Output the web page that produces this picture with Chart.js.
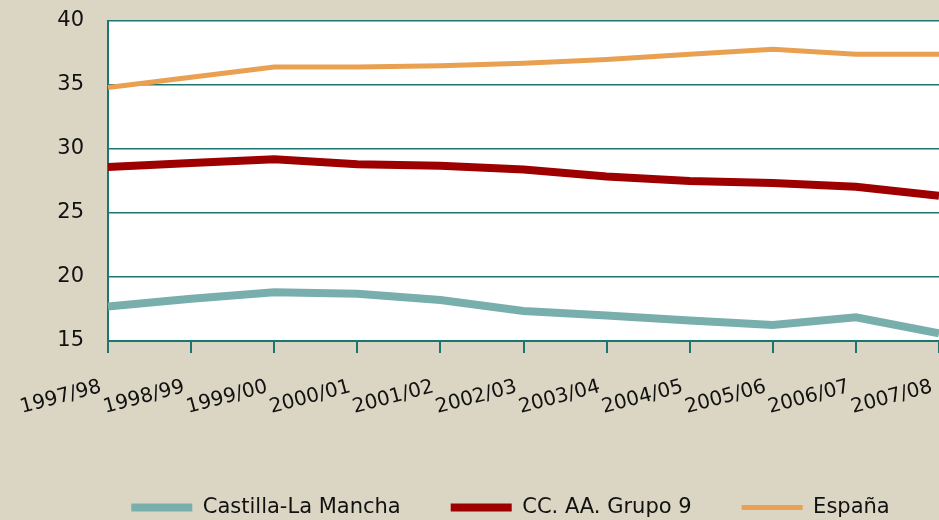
<!DOCTYPE html>
<html>
<head>
<meta charset="utf-8">
<script src="https://cdn.jsdelivr.net/npm/chart.js@4.4.1/dist/chart.umd.min.js"></script>
<style>
  html, body { margin: 0; padding: 0; background: #dbd6c4; }
  #wrap { width: 939px; height: 520px; }
</style>
</head>
<body>
<div id="wrap"><canvas id="chart" width="939" height="520"></canvas></div>
<script>
// Data
const seasons = ['1997/98', '1998/99', '1999/00', '2000/01', '2001/02', '2002/03',
                 '2003/04', '2004/05', '2005/06', '2006/07', '2007/08'];
const castillaLaMancha = [17.7, 18.3, 18.8, 18.7, 18.2, 17.35, 17.0, 16.6, 16.25, 16.85, 15.6];
const grupo9 = [28.6, 28.9, 29.2, 28.8, 28.7, 28.4, 27.85, 27.5, 27.35, 27.05, 26.35];
const espana = [34.8, 35.6, 36.4, 36.4, 36.5, 36.7, 37.0, 37.4, 37.8, 37.4, 37.4];
const yTicks = [15, 20, 25, 30, 35, 40];

const teal = '#1b7672';
const beige = '#dbd6c4';

// Paints the beige page and the white plot area
const backgroundPlugin = {
    id: 'background',
    beforeDraw(chart) {
        const { ctx, chartArea } = chart;
        ctx.save();
        ctx.fillStyle = beige;
        ctx.fillRect(0, 0, chart.width, chart.height);
        ctx.fillStyle = '#ffffff';
        ctx.fillRect(chartArea.left, chartArea.top, chartArea.right - chartArea.left, chartArea.bottom - chartArea.top);
        ctx.restore();
    }
};

// Nudges the legend a bit right and down, like in the original
const legendShiftPlugin = {
    id: 'legendShift',
    afterLayout(chart) {
        const lg = chart.legend;
        if (!lg) return;
        lg.left += 41;
        lg.right += 41;
        lg.top += 8;
        lg.bottom += 8;
    }
};

const ctx = document.getElementById('chart').getContext('2d');

new Chart(ctx, {
    type: 'line',
    data: {
        labels: seasons,
        datasets: [
            {
                label: 'Castilla-La Mancha',
                data: castillaLaMancha,
                borderColor: '#78afad',
                backgroundColor: '#78afad',
                borderWidth: 8,
                pointRadius: 0,
                tension: 0
            },
            {
                label: 'CC. AA. Grupo 9',
                data: grupo9,
                borderColor: '#9e0000',
                backgroundColor: '#9e0000',
                borderWidth: 8,
                pointRadius: 0,
                tension: 0
            },
            {
                label: 'España',
                data: espana,
                borderColor: '#e9a050',
                backgroundColor: '#e9a050',
                borderWidth: 5,
                pointRadius: 0,
                tension: 0
            }
        ]
    },
    options: {
        responsive: false,
        animation: false,
        layout: { padding: { top: 21, right: 0, bottom: 0, left: 0 } },
        plugins: {
            tooltip: { enabled: false },
            legend: {
                position: 'bottom',
                labels: {
                    usePointStyle: true,
                    pointStyle: 'line',
                    pointStyleWidth: 61,
                    boxHeight: 9,
                    padding: 50,
                    color: '#111111',
                    font: { family: 'DejaVu Sans', size: 21 }
                }
            }
        },
        scales: {
            x: {
                offset: false,
                grid: {
                    drawOnChartArea: false,
                    drawTicks: true,
                    tickLength: 12,
                    color: teal,
                    lineWidth: 2
                },
                border: { color: teal, width: 2 },
                ticks: {
                    autoSkip: false,
                    minRotation: 15,
                    maxRotation: 15,
                    padding: 22,
                    labelOffset: -7,
                    color: '#111111',
                    font: { family: 'DejaVu Sans', size: 20 }
                },
                afterFit: (scale) => {
                    scale.height = 98;
                    scale.paddingRight = 0;
                    scale.paddingLeft = 0;
                }
            },
            y: {
                min: 15,
                max: 40,
                afterBuildTicks: (scale) => { scale.ticks = yTicks.map(v => ({ value: v })); },
                grid: {
                    drawTicks: false,
                    color: teal,
                    lineWidth: 1.5
                },
                border: { color: teal, width: 2 },
                ticks: {
                    padding: 24,
                    color: '#111111',
                    font: { family: 'DejaVu Sans', size: 21 }
                },
                afterFit: (scale) => {
                    scale.width = 108;
                    scale.paddingTop = 0;
                    scale.paddingBottom = 0;
                }
            }
        }
    },
    plugins: [backgroundPlugin, legendShiftPlugin]
});
</script>
</body>
</html>
